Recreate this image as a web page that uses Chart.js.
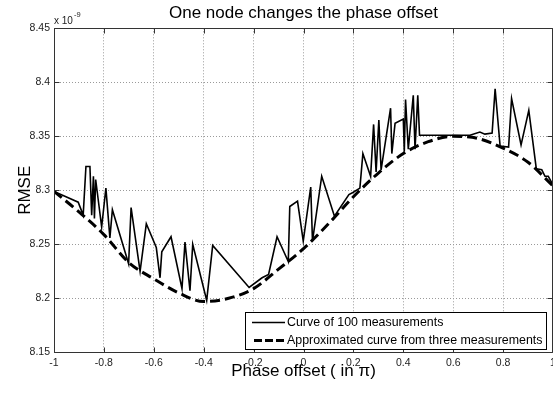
<!DOCTYPE html>
<html><head><meta charset="utf-8">
<script src="https://cdn.jsdelivr.net/npm/chart.js@4.4.1/dist/chart.umd.min.js"></script>
<style>html,body{margin:0;padding:0;background:#fff;overflow:hidden}canvas{display:block}</style>
</head><body>
<canvas id="c" width="553" height="394" style="width:553px;height:394px"></canvas>
<script>
const chartTitle = 'One node changes the phase offset';
const xAxisTitle = 'Phase offset ( in \u03c0)';
const yAxisTitle = 'RMSE';
const yExponent = ['x 10', '-9'];
const seriesNames = ['Curve of 100 measurements', 'Approximated curve from three measurements'];
const xTickValues = [-1, -0.8, -0.6, -0.4, -0.2, 0, 0.2, 0.4, 0.6, 0.8, 1];
const xTickLabels = ['-1', '-0.8', '-0.6', '-0.4', '-0.2', '0', '0.2', '0.4', '0.6', '0.8', '1'];
const yTickValues = [8.15, 8.2, 8.25, 8.3, 8.35, 8.4, 8.45];
const yTickLabels = ['8.15', '8.2', '8.25', '8.3', '8.35', '8.4', '8.45'];

const measX = [-1.000,-0.903,-0.883,-0.872,-0.856,-0.849,-0.842,-0.838,-0.833,-0.809,-0.792,-0.776,-0.766,-0.701,-0.691,-0.655,-0.630,-0.590,-0.575,-0.568,-0.531,-0.487,-0.475,-0.455,-0.444,-0.388,-0.364,-0.218,-0.166,-0.140,-0.106,-0.061,-0.055,-0.024,-0.001,0.029,0.036,0.073,0.124,0.182,0.198,0.226,0.238,0.269,0.281,0.291,0.302,0.311,0.349,0.354,0.367,0.400,0.404,0.409,0.420,0.440,0.447,0.458,0.465,0.559,0.667,0.707,0.727,0.756,0.768,0.788,0.822,0.834,0.872,0.903,0.933,0.955,0.968,0.981,1.000];
const measY = [8.299,8.289,8.277,8.322,8.322,8.277,8.313,8.274,8.310,8.266,8.302,8.256,8.282,8.232,8.284,8.225,8.269,8.247,8.219,8.243,8.257,8.209,8.252,8.207,8.250,8.198,8.249,8.210,8.219,8.222,8.257,8.234,8.285,8.290,8.253,8.303,8.253,8.313,8.276,8.296,8.298,8.302,8.334,8.313,8.361,8.317,8.365,8.319,8.376,8.334,8.362,8.366,8.336,8.384,8.338,8.388,8.338,8.388,8.351,8.351,8.351,8.354,8.352,8.353,8.394,8.341,8.340,8.385,8.342,8.374,8.320,8.319,8.313,8.313,8.305];
const approxX = [-1.0,-0.9,-0.8,-0.7,-0.6,-0.5,-0.4,-0.3,-0.2,-0.1,0.0,0.1,0.2,0.3,0.4,0.5,0.6,0.7,0.8,0.9,1.0];
const approxY = [8.299,8.280,8.259,8.233,8.218,8.205,8.197,8.200,8.209,8.227,8.246,8.269,8.294,8.316,8.334,8.345,8.350,8.348,8.339,8.326,8.304];

const FONT = '"Liberation Sans", Arial, Helvetica, sans-serif';
Chart.defaults.font.family = FONT;

const toPts = (xs, ys) => xs.map((x, i) => ({x: x, y: ys[i]}));

const framePlugin = {
  id: 'frame',
  afterDatasetsDraw(chart) {
    const {ctx, chartArea: a, scales: {x, y}} = chart;
    const L = Math.round(a.left) + 0.5, R = Math.round(a.right) - 0.5;
    const T = Math.round(a.top) + 0.5, B = Math.round(a.bottom) + 0.5;
    ctx.save();
    ctx.strokeStyle = '#333';
    ctx.lineWidth = 1;
    ctx.beginPath();
    ctx.moveTo(L, T); ctx.lineTo(R, T); ctx.lineTo(R, B); ctx.lineTo(L, B); ctx.closePath();
    xTickValues.forEach(v => {
      const px = Math.round(x.getPixelForValue(v)) + 0.5;
      ctx.moveTo(px, B); ctx.lineTo(px, B - 5);
      ctx.moveTo(px, T); ctx.lineTo(px, T + 5);
    });
    yTickValues.forEach(v => {
      const py = Math.round(y.getPixelForValue(v)) + 0.5;
      ctx.moveTo(L, py); ctx.lineTo(L + 5, py);
      ctx.moveTo(R, py); ctx.lineTo(R - 5, py);
    });
    ctx.stroke();
    ctx.restore();
  },
  afterDraw(chart) {
    const {ctx, chartArea: a} = chart;
    ctx.save();
    ctx.fillStyle = '#222';
    ctx.textBaseline = 'alphabetic';
    ctx.textAlign = 'left';
    ctx.font = '10px ' + FONT;
    ctx.fillText(yExponent[0], a.left, 24);
    const w = ctx.measureText(yExponent[0]).width;
    ctx.font = '7.5px ' + FONT;
    ctx.fillText(yExponent[1], a.left + w + 1, 17);
    const bx = 245.5, by = 312.5, bw = 301, bh = 37;
    ctx.fillStyle = '#fff';
    ctx.fillRect(bx, by, bw, bh);
    ctx.strokeStyle = '#000';
    ctx.lineWidth = 1;
    ctx.strokeRect(bx, by, bw, bh);
    const rows = [322, 340];
    const ds = chart.data.datasets;
    rows.forEach((ry, i) => {
      ctx.beginPath();
      ctx.strokeStyle = '#000';
      ctx.lineWidth = ds[i].borderWidth;
      ctx.setLineDash(i === 1 ? [8, 3] : []);
      ctx.moveTo(i === 1 ? 254 : 252, ry + 0.5);
      ctx.lineTo(285, ry + 0.5);
      ctx.stroke();
      ctx.setLineDash([]);
      ctx.fillStyle = '#000';
      ctx.font = '12.4px ' + FONT;
      ctx.textBaseline = 'middle';
      ctx.fillText(ds[i].label, 287, ry + 0.5);
    });
    ctx.restore();
  }
};

new Chart(document.getElementById('c'), {
  type: 'line',
  data: {
    datasets: [
      {label: seriesNames[0], data: toPts(measX, measY), borderColor: '#000', borderWidth: 1.6, pointRadius: 0, tension: 0, fill: false},
      {label: seriesNames[1], data: toPts(approxX, approxY), borderColor: '#000', borderWidth: 3, borderDash: [10, 5], pointRadius: 0, tension: 0.4, cubicInterpolationMode: 'monotone', fill: false}
    ]
  },
  options: {
    responsive: false,
    animation: false,
    devicePixelRatio: 1,
    layout: {autoPadding: false, padding: {left: 0, right: 0, top: 0, bottom: 0}},
    plugins: {
      legend: {display: false},
      tooltip: {enabled: false},
      title: {display: true, text: chartTitle, fullSize: false, color: '#000', font: {size: 17, weight: 'normal', family: FONT}, padding: {top: 3.3, bottom: 4.6}}
    },
    scales: {
      x: {
        type: 'linear', min: -1, max: 1,
        afterBuildTicks(s) { s.ticks = xTickValues.map(v => ({value: v})); },
        afterFit(s) { s.height = 41.7; s.paddingLeft = 0; s.paddingRight = 0; },
        ticks: {callback: (v, i) => xTickLabels[i], color: '#222', font: {size: 10.5}, padding: 5, maxRotation: 0, autoSkip: false},
        grid: {color: '#9a9a9a', lineWidth: 1, drawTicks: false},
        border: {display: false, dash: [1, 2]},
        title: {display: true, text: xAxisTitle, color: '#000', font: {size: 17}, padding: {top: 0, bottom: 12.3}}
      },
      y: {
        type: 'linear', min: 8.15, max: 8.45,
        afterBuildTicks(s) { s.ticks = yTickValues.map(v => ({value: v})); },
        afterFit(s) { s.width = 54; s.paddingTop = 0; s.paddingBottom = 0; },
        ticks: {callback: (v, i) => yTickLabels[i], color: '#222', font: {size: 10.5}, padding: 4, autoSkip: false},
        grid: {color: '#9a9a9a', lineWidth: 1, drawTicks: false},
        border: {display: false, dash: [1, 2]},
        title: {display: true, text: yAxisTitle, color: '#000', font: {size: 17}, padding: {top: 14.8, bottom: 0}}
      }
    }
  },
  plugins: [framePlugin]
});
</script>
</body></html>
